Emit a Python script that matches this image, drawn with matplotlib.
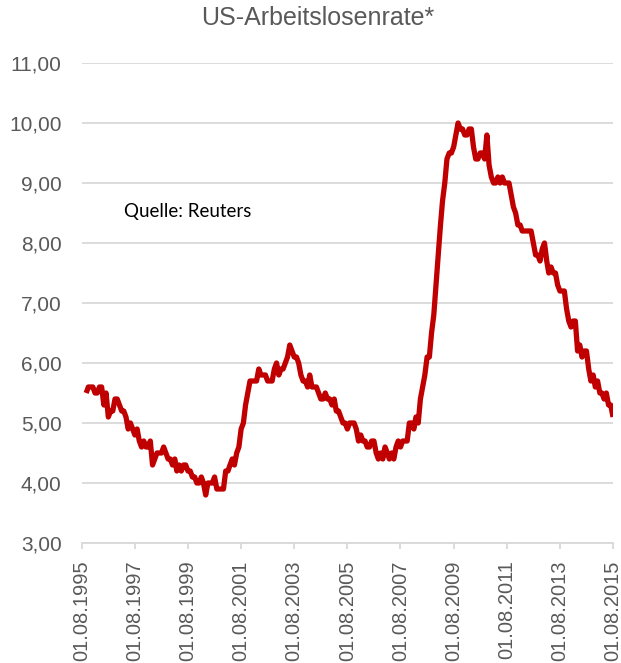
import matplotlib
matplotlib.use("Agg")
import matplotlib.pyplot as plt
import matplotlib.dates as mdates
import pandas as pd
import numpy as np

# Monthly US unemployment rate (%), Oct 1995 - Aug 2015
y1995 = [5.5, 5.6, 5.6]
y1996 = [5.6, 5.5, 5.5, 5.6, 5.6, 5.3, 5.5, 5.1, 5.2, 5.2, 5.4, 5.4]
y1997 = [5.3, 5.2, 5.2, 5.1, 4.9, 5.0, 4.9, 4.8, 4.9, 4.7, 4.6, 4.7]
y1998 = [4.6, 4.6, 4.7, 4.3, 4.4, 4.5, 4.5, 4.5, 4.6, 4.5, 4.4, 4.4]
y1999 = [4.3, 4.4, 4.2, 4.3, 4.2, 4.3, 4.3, 4.2, 4.2, 4.1, 4.1, 4.0]
y2000 = [4.0, 4.1, 4.0, 3.8, 4.0, 4.0, 4.0, 4.1, 3.9, 3.9, 3.9, 3.9]
y2001 = [4.2, 4.2, 4.3, 4.4, 4.3, 4.5, 4.6, 4.9, 5.0, 5.3, 5.5, 5.7]
y2002 = [5.7, 5.7, 5.7, 5.9, 5.8, 5.8, 5.8, 5.7, 5.7, 5.7, 5.9, 6.0]
y2003 = [5.8, 5.9, 5.9, 6.0, 6.1, 6.3, 6.2, 6.1, 6.1, 6.0, 5.8, 5.7]
y2004 = [5.7, 5.6, 5.8, 5.6, 5.6, 5.6, 5.5, 5.4, 5.4, 5.5, 5.4, 5.4]
y2005 = [5.3, 5.4, 5.2, 5.2, 5.1, 5.0, 5.0, 4.9, 5.0, 5.0, 5.0, 4.9]
y2006 = [4.7, 4.8, 4.7, 4.7, 4.6, 4.6, 4.7, 4.7, 4.5, 4.4, 4.5, 4.4]
y2007 = [4.6, 4.5, 4.4, 4.5, 4.4, 4.6, 4.7, 4.6, 4.7, 4.7, 4.7, 5.0]
y2008 = [5.0, 4.9, 5.1, 5.0, 5.4, 5.6, 5.8, 6.1, 6.1, 6.5, 6.8, 7.3]
y2009 = [7.8, 8.3, 8.7, 9.0, 9.4, 9.5, 9.5, 9.6, 9.8, 10.0, 9.9, 9.9]
y2010 = [9.8, 9.8, 9.9, 9.9, 9.6, 9.4, 9.4, 9.5, 9.5, 9.4, 9.8, 9.3]
y2011 = [9.1, 9.0, 9.0, 9.1, 9.0, 9.1, 9.0, 9.0, 9.0, 8.8, 8.6, 8.5]
y2012 = [8.3, 8.3, 8.2, 8.2, 8.2, 8.2, 8.2, 8.0, 7.8, 7.8, 7.7, 7.9]
y2013 = [8.0, 7.7, 7.5, 7.6, 7.5, 7.5, 7.3, 7.2, 7.2, 7.2, 6.9, 6.7]
y2014 = [6.6, 6.7, 6.7, 6.2, 6.3, 6.1, 6.2, 6.2, 5.9, 5.7, 5.8, 5.6]
y2015 = [5.7, 5.5, 5.5, 5.4, 5.5, 5.3, 5.3, 5.1]

values = (y1995 + y1996 + y1997 + y1998 + y1999 + y2000 + y2001 + y2002 + y2003
          + y2004 + y2005 + y2006 + y2007 + y2008 + y2009 + y2010 + y2011 + y2012
          + y2013 + y2014 + y2015)
dates = pd.date_range("1995-10-01", periods=len(values), freq="MS")

tick_dates = pd.to_datetime([f"{y}-08-01" for y in range(1995, 2016, 2)])
y_ticks = [3, 4, 5, 6, 7, 8, 9, 10, 11]

title = "US-Arbeitslosenrate*"
source = "Quelle: Reuters"

plt.rcParams["font.family"] = ["Liberation Sans", "DejaVu Sans"]
gray_txt = "#595959"
grid_c = "#D9D9D9"

fig = plt.figure(figsize=(6.21, 6.63), dpi=100)
ax = fig.add_axes([81.7 / 621, 120 / 663, (613.0 - 81.7) / 621, 480 / 663])

ax.plot(dates, values, color="#C00000", lw=3.8, solid_joinstyle="round",
        solid_capstyle="butt", zorder=3)

ax.set_ylim(3, 11)
ax.set_yticks(y_ticks)
ax.set_yticklabels([f"{v:.2f}".replace(".", ",") for v in y_ticks])
ax.set_xlim(pd.Timestamp("1995-08-01"), pd.Timestamp("2015-08-01"))
ax.set_xticks(tick_dates)
ax.set_xticklabels([d.strftime("%d.%m.%Y") for d in tick_dates], rotation=90)

ax.grid(axis="y", color=grid_c, lw=1.3, zorder=1)
ax.set_axisbelow(True)
for s in ["left", "right", "top"]:
    ax.spines[s].set_visible(False)
ax.spines["bottom"].set_color(grid_c)
ax.spines["bottom"].set_linewidth(1.3)

ax.tick_params(axis="y", length=0, pad=14.5, labelsize=15, labelcolor=gray_txt)
ax.tick_params(axis="x", length=4.5, width=1.3, color=grid_c, pad=8,
               labelsize=14.5, labelcolor=gray_txt)

fig.text(318 / 621, 1 - 18 / 663, title, ha="center", va="center",
         fontsize=18, color=gray_txt)
fig.text(124 / 621, 1 - 211 / 663, source, ha="left", va="center",
         fontsize=13.5, color="#000000", family=["Lato", "DejaVu Sans"])

fig.savefig("out.png", dpi=100)
